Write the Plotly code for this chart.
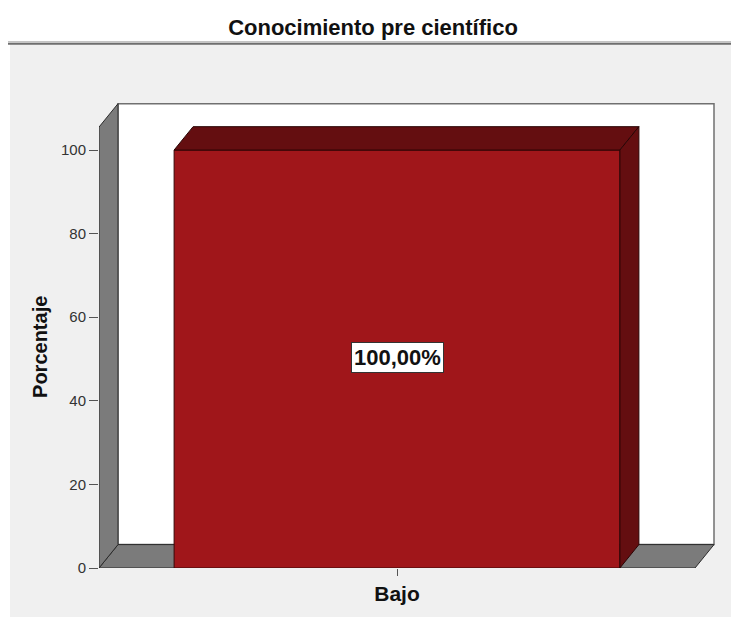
import plotly.graph_objects as go

# ---- data ----
categories = ["Bajo"]
values = [100.0]
labels = ["100,00%"]
y_ticks = [0, 20, 40, 60, 80, 100]

# ---- style / geometry ----
BAR_W = 0.748
DX = 19 / 596          # depth offset in category units
DY = 5.6               # depth offset in value units
WALL_TOP = 105.5
FRONT = "#a0161a"
DARK = "#640e10"
GRAY = "#7b7b7b"
EDGE = "#2b2b2b"
BG = "#f0f0f0"

W, H = 731, 617
ML, MR, MT, MB = 99, 15, 102, 47
PW, PH = W - ML - MR, H - MT - MB

def px_x(p):   # figure pixel x -> paper x
    return (p - ML) / PW

def px_y(p):   # figure pixel y -> paper y
    return (H - MB - p) / PH

fig = go.Figure()
fig.add_trace(go.Bar(
    x=categories, y=values, width=[BAR_W] * len(values),
    marker=dict(color=FRONT, line=dict(color="#3a0808", width=1)),
    hoverinfo="skip", showlegend=False,
))

shapes = []
def poly(pts, fill, line, lw=1, layer="above"):
    d = "M " + " L ".join(f"{x},{y}" for x, y in pts) + " Z"
    shapes.append(dict(type="path", path=d, xref="x", yref="y", fillcolor=fill,
                       line=dict(color=line, width=lw), layer=layer))

xl, xr = -0.5, len(categories) - 0.5
# back wall
poly([(xl + DX, DY), (xr + DX, DY), (xr + DX, WALL_TOP + DY), (xl + DX, WALL_TOP + DY)],
     "white", "#707070", 1.5, "below")
# floor
poly([(xl, 0), (xr, 0), (xr + DX, DY), (xl + DX, DY)], GRAY, EDGE, 1, "below")
# left wall
poly([(xl, 0), (xl, WALL_TOP), (xl + DX, WALL_TOP + DY), (xl + DX, DY)], GRAY, EDGE, 1, "below")

# bar 3D faces
for i, v in enumerate(values):
    x0, x1 = i - BAR_W / 2, i + BAR_W / 2
    poly([(x0, v), (x1, v), (x1 + DX, v + DY), (x0 + DX, v + DY)], DARK, "#2a0505", 1)
    poly([(x1, 0), (x1, v), (x1 + DX, v + DY), (x1 + DX, DY)], DARK, "#2a0505", 1)

# top white band + separator, left white strip
shapes.append(dict(type="rect", xref="paper", yref="paper", x0=px_x(-5), x1=px_x(W + 5),
                   y0=px_y(42), y1=px_y(-5), fillcolor="white", line=dict(width=0), layer="below"))
shapes.append(dict(type="rect", xref="paper", yref="paper", x0=px_x(-5), x1=px_x(10),
                   y0=px_y(H + 5), y1=px_y(-5), fillcolor="white", line=dict(width=0), layer="below"))
shapes.append(dict(type="line", xref="paper", yref="paper", x0=px_x(8), x1=px_x(W + 5),
                   y0=px_y(41.5), y1=px_y(41.5), line=dict(color="#b0b0b0", width=1)))
shapes.append(dict(type="line", xref="paper", yref="paper", x0=px_x(8), x1=px_x(W + 5),
                   y0=px_y(43.5), y1=px_y(43.5), line=dict(color="#6e6e6e", width=2)))

fig.update_layout(
    width=W, height=H,
    margin=dict(l=ML, r=MR, t=MT, b=MB),
    paper_bgcolor=BG, plot_bgcolor=BG,
    shapes=shapes,
    font=dict(family="Liberation Sans, Arial, sans-serif", color="#222"),
    title=dict(text="<b>Conocimiento pre científico</b>", x=373 / W, xanchor="center",
               y=1 - 27 / H, yanchor="middle", font=dict(size=22, color="#111")),
    bargap=0,
)
fig.update_xaxes(
    type="category", range=[-0.5, 0.5 + (716 - 695) / 596],
    showgrid=False, zeroline=False, showline=False,
    ticks="outside", ticklen=7, tickcolor="#555",
    tickvals=categories, ticktext=[f"<b>{c}</b>" for c in categories],
    tickfont=dict(size=21, color="#111"), ticklabelstandoff=0,
)
fig.update_yaxes(
    range=[0, 111.5], tickvals=y_ticks, ticktext=[str(t) for t in y_ticks],
    showgrid=False, zeroline=False, showline=False,
    ticks="outside", ticklen=9, tickcolor="#555",
    tickfont=dict(size=15, color="#333"),
)
for c, v, t in zip(categories, values, labels):
    fig.add_annotation(x=c, y=v / 2, yshift=2, text=f"<b>{t}</b>", showarrow=False,
                       font=dict(size=22, color="#111"), bgcolor="white",
                       bordercolor="#333", borderwidth=1, borderpad=2)
fig.add_annotation(xref="paper", yref="paper", x=px_x(40), y=px_y(348),
                   text="<b>Porcentaje</b>", textangle=-90, showarrow=False,
                   font=dict(size=20, color="#111"), xanchor="center", yanchor="middle")

fig.write_html(
    "out.html",
    config={"displayModeBar": False, "staticPlot": True},
    post_script=(
        "document.body.style.margin='0';document.body.style.overflow='hidden';"
        f"document.body.style.background='{BG}';"
        f"document.documentElement.style.background='{BG}';"
    ),
)
